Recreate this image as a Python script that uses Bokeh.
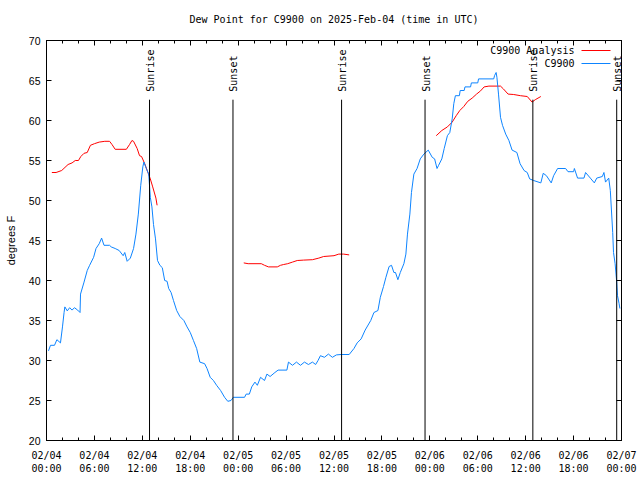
import math
from bokeh.plotting import figure
from bokeh.models import Range1d, LinearAxis, FixedTicker, Label, Arrow, CustomLabelingPolicy
from bokeh.embed import file_html
from bokeh.resources import INLINE
from bokeh.core.properties import value

MONO = "DejaVu Sans Mono"
SANS = "Liberation Sans"

title_text = "Dew Point for C9900 on 2025-Feb-04 (time in UTC)"
y_label = "degrees F"

# x in hours since 02/04 00:00 UTC
x_ticks = [0, 6, 12, 18, 24, 30, 36, 42, 48, 54, 60, 66, 72]
x_tick_labels = ["02/04\n00:00", "02/04\n06:00", "02/04\n12:00", "02/04\n18:00",
                 "02/05\n00:00", "02/05\n06:00", "02/05\n12:00", "02/05\n18:00",
                 "02/06\n00:00", "02/06\n06:00", "02/06\n12:00", "02/06\n18:00",
                 "02/07\n00:00"]
x_minor_ticks = list(range(0, 73, 2))
y_ticks = [20, 25, 30, 35, 40, 45, 50, 55, 60, 65, 70]

# Observations (C9900)
obs_hours = [0.25, 0.5, 1.0, 1.3, 1.75, 2.0, 2.2, 2.3, 2.6, 2.9, 3.2, 3.5, 3.9, 4.2, 4.26,
             4.7, 5.1, 5.4, 5.9, 6.2, 6.6, 6.9, 7.2, 7.9, 8.1, 8.6, 9.1, 9.6, 9.8, 10.1,
             10.5, 10.9, 11.2, 11.5, 11.8, 12.06, 12.2, 12.5, 12.8, 13.0, 13.2, 13.4, 13.65,
             13.9, 14.2, 14.5, 14.8, 15.1, 15.3, 15.6, 15.9, 16.3, 16.7, 17.2, 17.6, 18.0,
             18.4, 18.8, 19.2, 19.8, 20.1, 20.5, 20.9, 21.3, 21.8, 22.3, 22.7, 23.1, 23.4,
             24.8, 25.0, 25.4, 25.7, 26.1, 26.4, 26.8, 27.3, 27.6, 28.0, 28.6, 29.0, 30.1,
             30.3, 30.8, 31.3, 31.8, 32.3, 32.8, 33.3, 33.7, 34.0, 34.3, 34.8, 35.3, 35.8,
             36.3, 36.9, 37.9, 38.5, 38.9, 39.4, 39.9, 40.6, 41.0, 41.5, 41.8, 42.2, 42.5,
             42.9, 43.2, 43.5, 43.7, 44.0, 44.3, 44.75, 45.0, 45.2, 45.5, 45.7, 46.0, 46.4,
             46.8, 47.25, 47.8, 48.3, 48.6, 48.9, 49.1, 49.5, 49.8, 50.2, 50.5, 50.8, 51.0,
             51.2, 51.7, 51.8, 52.3, 52.4, 53.1, 53.2, 54.0, 54.1, 56.0, 56.1, 56.3, 56.4,
             56.6, 56.85, 57.1, 57.5, 57.9, 58.3, 58.9, 59.3, 59.8, 60.2, 60.5, 61.0, 61.9,
             62.2, 62.6, 63.2, 63.5, 64.0, 65.0, 65.3, 66.0, 66.1, 66.5, 67.3, 67.5, 68.1,
             68.6, 68.9, 69.6, 69.8, 70.0, 70.4, 70.6, 70.9, 71.0, 71.2, 71.4, 71.5, 71.7,
             71.8]
obs_values = [31.2, 31.9, 31.9, 32.6, 32.2, 34.2, 36.0, 36.7, 36.2, 36.6, 36.3, 36.6, 36.3, 36.0, 38.3,
              39.8, 41.25, 41.9, 42.9, 44.0, 44.6, 45.3, 44.4, 44.4, 44.2, 44.0, 43.75, 43.1, 43.5, 42.4,
              42.8, 44.0, 45.8, 48.3, 51.9, 54.2, 54.8, 54.0, 53.3, 50.4, 49.2, 47.0, 45.2,
              42.5, 41.9, 41.6, 40.0, 39.9, 39.0, 38.5, 37.5, 36.25, 35.5, 35.0, 34.2, 33.5,
              32.5, 31.5, 29.8, 29.6, 29.0, 27.9, 27.5, 26.9, 26.25, 25.4, 24.9, 25.0, 25.4,
              25.4, 25.8, 25.8, 26.7, 27.3, 26.9, 27.9, 27.5, 28.3, 28.0, 28.5, 28.8, 28.8,
              29.8, 29.4, 29.8, 29.4, 29.8, 29.5, 29.8, 29.5, 30.0, 30.6, 30.4, 30.8, 30.4,
              30.7, 30.75, 30.75, 31.5, 32.2, 32.7, 33.8, 35.0, 36.0, 36.25, 37.9, 39.25, 40.4,
              41.75, 41.9, 41.0, 41.0, 40.1, 41.0, 42.1, 43.3, 45.8, 48.3, 51.0, 53.3, 54.0,
              55.2, 55.8, 56.3, 55.4, 55.2, 54.0, 54.4, 55.2, 56.5, 58.1, 58.5, 60.2, 62.1,
              63.1, 63.1, 63.75, 63.75, 64.2, 64.2, 64.7, 64.7, 65.2, 65.2, 65.6, 66.0, 65.4,
              63.3, 60.4, 59.4, 58.3, 57.5, 56.3, 56.0, 54.6, 53.75, 53.5, 52.7, 52.5, 52.2,
              53.4, 53.1, 52.2, 53.1, 54.0, 54.0, 53.6, 53.6, 54.0, 52.8, 52.8, 53.5, 52.8,
              52.2, 52.8, 53.0, 53.5, 52.3, 52.8, 51.25, 46.0, 43.5, 42.1, 39.8, 38.1, 37.1,
              36.5]

# Analysis (C9900 Analysis) - three separate runs, gaps as None
ana_hours = [0.67, 1.2, 1.9, 2.7, 3.2, 3.6, 4.0, 4.3, 4.7, 5.1, 5.5, 6.0, 6.6, 7.3, 7.9,
             8.2, 8.6, 10.0, 10.4, 10.7, 10.9, 11.35, 11.65, 11.9, 12.3, 12.7, 13.0, 13.3,
             13.7, 13.85, None,
             24.7, 25.25, 26.9, 27.3, 27.8, 28.9, 29.3, 29.7, 30.2, 30.8, 31.4, 32.2, 33.3,
             34.1, 34.7, 36.0, 36.6, 37.2, 37.9, None,
             48.8, 49.5, 50.2, 50.8, 51.3, 51.75, 52.25, 52.75, 53.3, 53.85, 54.35, 54.8,
             55.4, 56.85, 57.2, 57.8, 58.5, 59.35, 60.2, 60.8, 61.2, 61.9]
ana_values = [53.5, 53.5, 53.75, 54.5, 54.7, 55.0, 55.0, 55.5, 55.9, 56.0, 56.9, 57.1, 57.3, 57.4, 57.4,
              57.0, 56.4, 56.4, 57.0, 57.5, 57.4, 56.5, 55.6, 55.5, 54.6, 53.5, 52.7, 51.7,
              50.3, 49.4, None,
              42.2, 42.1, 42.1, 41.9, 41.7, 41.7, 41.9, 42.0, 42.1, 42.3, 42.5, 42.55, 42.6,
              42.8, 43.0, 43.1, 43.3, 43.3, 43.2, None,
              58.1, 58.75, 59.2, 59.8, 60.6, 61.25, 61.75, 62.4, 62.8, 63.3, 63.7, 64.2,
              64.3, 64.3, 63.96, 63.3, 63.25, 63.1, 63.0, 62.3, 62.6, 63.0]

sun_hours = [12.9, 23.35, 36.95, 47.4, 60.9, 71.4]
sun_labels = ["Sunrise", "Sunset", "Sunrise", "Sunset", "Sunrise", "Sunset"]

obs_name = "C9900"
ana_name = "C9900 Analysis"
obs_color = "#0d84ff"
ana_color = "#ff0000"

nan = float("nan")
ana_x = [nan if v is None else v for v in ana_hours]
ana_y = [nan if v is None else v for v in ana_values]

p = figure(width=640, height=480, output_backend="svg", toolbar_location=None,
           x_range=Range1d(0, 72), y_range=Range1d(20, 70),
           min_border_left=46, min_border_right=19, min_border_top=40, min_border_bottom=40,
           x_axis_type=None, y_axis_type=None)
p.background_fill_color = "white"
p.border_fill_color = "white"
p.outline_line_color = "black"
p.outline_line_width = 1
p.outline_line_alpha = 1

p.title.text = title_text
p.title.text_font = MONO
p.title.text_font_size = "10px"
p.title.text_font_style = "normal"
p.title.text_color = "black"
p.title.align = "center"
p.title.standoff = 10

x_ticker = FixedTicker(ticks=x_ticks, minor_ticks=x_minor_ticks)
y_ticker = FixedTicker(ticks=y_ticks, minor_ticks=[])


def style_axis(ax, show_labels):
    ax.axis_line_color = "black"
    ax.major_tick_line_color = "black"
    ax.minor_tick_line_color = "black"
    ax.major_label_text_color = "black"
    ax.axis_label_text_color = "black"
    ax.major_tick_in = 5
    ax.major_tick_out = 0
    ax.minor_tick_in = 3
    ax.minor_tick_out = 0
    if not show_labels:
        ax.major_label_policy = CustomLabelingPolicy(code="return []")
        ax.major_label_standoff = 0


xb = LinearAxis(ticker=x_ticker)
style_axis(xb, True)
xb.major_label_overrides = {t: l for t, l in zip(x_ticks, x_tick_labels)}
xb.major_label_text_font = MONO
xb.major_label_text_font_size = "10px"
xb.major_label_standoff = 9
p.add_layout(xb, "below")

xt = LinearAxis(ticker=x_ticker)
style_axis(xt, False)
p.add_layout(xt, "above")

yl = LinearAxis(ticker=y_ticker)
style_axis(yl, True)
yl.major_label_text_font = SANS
yl.major_label_text_font_size = "10.5px"
yl.major_label_standoff = 6
yl.axis_label = y_label
yl.axis_label_text_font = SANS
yl.axis_label_text_font_size = "11px"
yl.axis_label_text_font_style = "normal"
yl.axis_label_standoff = 9
p.add_layout(yl, "left")

yr = LinearAxis(ticker=y_ticker)
style_axis(yr, False)
p.add_layout(yr, "right")

p.xgrid.visible = False
p.ygrid.visible = False

# Data lines
p.line(ana_x, ana_y, line_color=ana_color, line_width=1)
p.line(obs_hours, obs_values, line_color=obs_color, line_width=1)

# Sunrise / sunset markers
p.segment(x0=sun_hours, y0=[20] * len(sun_hours), x1=sun_hours, y1=[62.6] * len(sun_hours),
          line_color="black", line_width=1)
p.text(x=sun_hours, y=[63.6] * len(sun_hours), text=sun_labels, angle=math.pi / 2,
       text_align="left", text_baseline="middle", text_font=value(MONO),
       text_font_size="10px", text_color="black", x_offset=1)

# Legend (gnuplot style: text then line sample)
for i, (name, col) in enumerate([(ana_name, ana_color), (obs_name, obs_color)]):
    ys = 390 - 13 * i
    p.add_layout(Label(x=528, y=ys, x_units="screen", y_units="screen", text=name,
                       text_align="right", text_baseline="middle", text_font=MONO,
                       text_font_size="10px", text_color="black"))
    p.add_layout(Arrow(start=None, end=None, x_start=535, y_start=ys, x_end=564, y_end=ys,
                       start_units="screen", end_units="screen",
                       line_color=col, line_width=1))

open("out.html", "w").write(file_html(p, INLINE))
